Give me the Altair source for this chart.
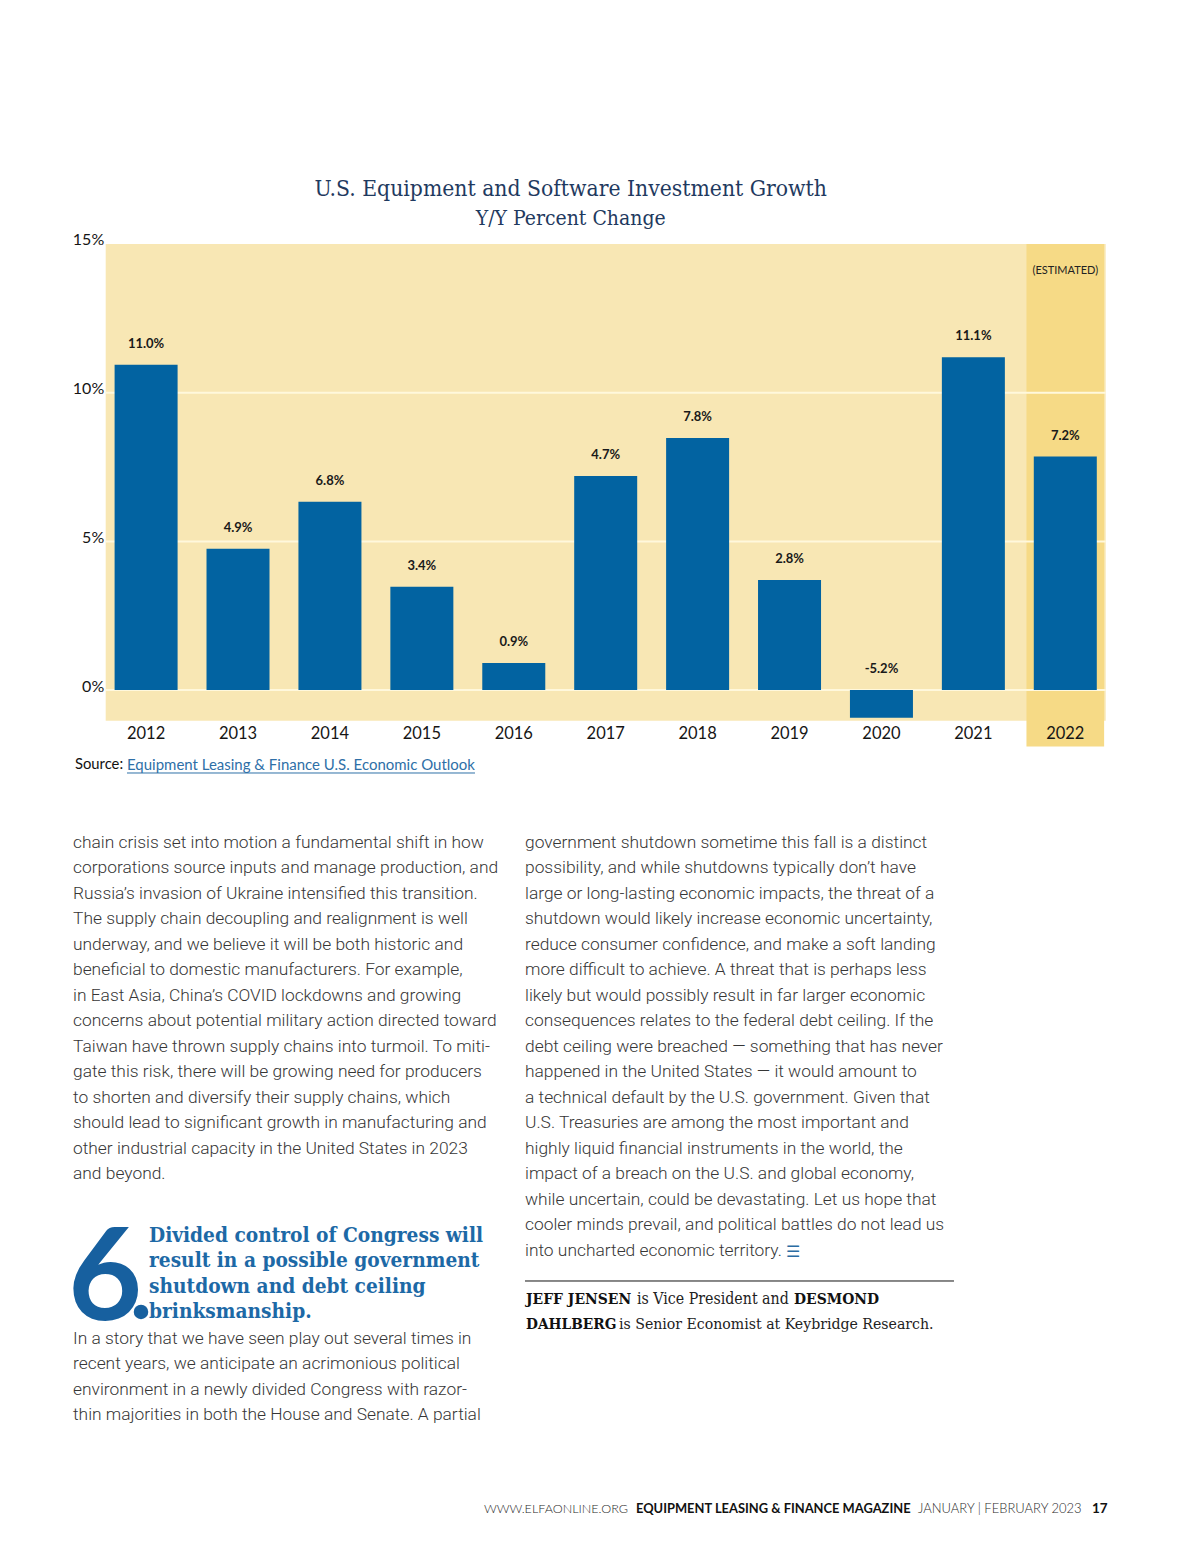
import altair as alt
import pandas as pd

# ---------------- data ----------------
years = ["2012", "2013", "2014", "2015", "2016", "2017", "2018", "2019", "2020", "2021", "2022"]
bar_values = [10.94, 4.75, 6.33, 3.47, 0.91, 7.20, 8.48, 3.70, -0.93, 11.19, 7.85]
value_labels = ["11.0%", "4.9%", "6.8%", "3.4%", "0.9%", "4.7%", "7.8%", "2.8%", "-5.2%", "11.1%", "7.2%"]
grid_values = [0, 5, 10]
y_ticks = [0, 5, 10, 15]
est_years = ["2022"]
est_top = [15]
est_bottom = [-1.9]
est_label = ["(ESTIMATED)"]

left_col = [
    "chain crisis set into motion a fundamental shift in how",
    "corporations source inputs and manage production, and",
    "Russia’s invasion of Ukraine intensified this transition.",
    "The supply chain decoupling and realignment is well",
    "underway, and we believe it will be both historic and",
    "beneficial to domestic manufacturers. For example,",
    "in East Asia, China’s COVID lockdowns and growing",
    "concerns about potential military action directed toward",
    "Taiwan have thrown supply chains into turmoil. To miti-",
    "gate this risk, there will be growing need for producers",
    "to shorten and diversify their supply chains, which",
    "should lead to significant growth in manufacturing and",
    "other industrial capacity in the United States in 2023",
    "and beyond.",
]
heading = [
    "Divided control of Congress will",
    "result in a possible government",
    "shutdown and debt ceiling",
    "brinksmanship.",
]
left_col2 = [
    "In a story that we have seen play out several times in",
    "recent years, we anticipate an acrimonious political",
    "environment in a newly divided Congress with razor-",
    "thin majorities in both the House and Senate. A partial",
]
right_col = [
    "government shutdown sometime this fall is a distinct",
    "possibility, and while shutdowns typically don’t have",
    "large or long-lasting economic impacts, the threat of a",
    "shutdown would likely increase economic uncertainty,",
    "reduce consumer confidence, and make a soft landing",
    "more difficult to achieve. A threat that is perhaps less",
    "likely but would possibly result in far larger economic",
    "consequences relates to the federal debt ceiling. If the",
    "debt ceiling were breached — something that has never",
    "happened in the United States — it would amount to",
    "a technical default by the U.S. government. Given that",
    "U.S. Treasuries are among the most important and",
    "highly liquid financial instruments in the world, the",
    "impact of a breach on the U.S. and global economy,",
    "while uncertain, could be devastating. Let us hope that",
    "cooler minds prevail, and political battles do not lead us",
    "into uncharted economic territory.",
]

# ---------------- layout constants ----------------
OX, OY = 105.7, 244.0          # page position of plot origin
W, H = 1000, 476.7
BLUE = "#0263A1"
PANEL = "#F8E7B4"
EST = "#F6DA86"
NAVY = "#1F3A60"
HEAD = "#1D69A6"
BODY = "#363636"
SANS = "Lato"
BODYFONT = "Roboto"
SERIF = "DejaVu Serif Condensed, Liberation Serif"

df = pd.DataFrame({"year": years, "value": bar_values, "label": value_labels})
df_est = pd.DataFrame({"year": est_years, "top": est_top, "bottom": est_bottom, "t": est_label})
df_grid = pd.DataFrame({"g": grid_values})

xscale = alt.Scale(domain=years, paddingInner=0.155, paddingOuter=0.017)
yscale = alt.Scale(domain=[-1.03, 15], nice=False, zero=False)

band = alt.Chart(df_est).mark_rect(color=EST).encode(
    x=alt.X("year:N", scale=xscale, sort=years,
            axis=alt.Axis(title=None, labelAngle=0, ticks=False, domain=False,
                          labelFont=SANS, labelFontSize=16.5, labelColor="#151515",
                          labelPadding=5)),
    y=alt.Y("top:Q", scale=yscale,
            axis=alt.Axis(title=None, values=y_ticks, format="d", labelExpr="datum.value + '%'",
                          ticks=False, domain=False, grid=False, labelFont=SANS,
                          labelFontSize=16, labelColor="#151515", labelPadding=2,
                          labelOffset=-4)),
    y2="bottom:Q",
)

est_text = alt.Chart(df_est).mark_text(font=SANS, fontSize=11, color="#222", baseline="middle", dy=27).encode(
    x=alt.X("year:N", scale=xscale, sort=years),
    y=alt.Y("top:Q", scale=yscale),
    text="t:N",
)

grid = alt.Chart(df_grid).mark_rule(color="#FFF8DC", strokeWidth=2).encode(
    y=alt.Y("g:Q", scale=yscale)
)

bars = alt.Chart(df).mark_bar(color=BLUE, size=63).encode(
    x=alt.X("year:N", scale=xscale, sort=years),
    y=alt.Y("value:Q", scale=yscale),
    y2=alt.datum(0),
)

labels = alt.Chart(df).transform_calculate(ly="max(datum.value, 0)").mark_text(
    font=SANS, fontSize=13, fontWeight="bold", color="#1a1a1a", baseline="middle", dy=-21
).encode(
    x=alt.X("year:N", scale=xscale, sort=years),
    y=alt.Y("ly:Q", scale=yscale),
    text="label:N",
)


def text_block(lines, x, y, dy, size, color, font, weight="normal"):
    d = pd.DataFrame({"t": lines, "i": list(range(len(lines)))})
    return alt.Chart(d).transform_calculate(py=f"{y - OY} + datum.i * {dy}").mark_text(
        align="left", baseline="middle", font=font, fontSize=size, fontWeight=weight, color=color
    ).encode(
        x=alt.value(x - OX),
        y=alt.Y("py:Q", scale=None, axis=None),
        text="t:N",
    )


def one_text(s, x, y, size, color, font, weight="normal", align="left", baseline="middle"):
    d = pd.DataFrame({"t": [s]})
    return alt.Chart(d).mark_text(
        align=align, baseline=baseline, font=font, fontSize=size, fontWeight=weight, color=color
    ).encode(x=alt.value(x - OX), y=alt.value(y - OY), text="t:N")


src1 = one_text("Source:", 75, 765, 14.8, "#111", SANS)
src2 = one_text("Equipment Leasing & Finance U.S. Economic Outlook", 127, 765, 15, "#2E6FA7", SANS)
src_line = alt.Chart(pd.DataFrame({"a": [0]})).mark_rule(color="#2E6FA7", strokeWidth=1).encode(
    x=alt.value(127 - OX), x2=alt.value(475 - OX), y=alt.value(773 - OY)
)

body_l = text_block(left_col, 73, 843, 25.5, 17.4, BODY, BODYFONT, 300)
head = text_block(heading, 149, 1236, 25.4, 20.7, HEAD, SERIF, "bold")
six = one_text("6", 68, 1320, 128, "#17609F", SANS, "bold", baseline="alphabetic")
dot = alt.Chart(pd.DataFrame({"a": [0]})).mark_circle(color="#17609F", opacity=1, size=210).encode(
    x=alt.value(141 - OX), y=alt.value(1312 - OY)
)
body_l2 = text_block(left_col2, 73, 1339, 25.5, 17.4, BODY, BODYFONT, 300)
body_r = text_block(right_col, 525, 843, 25.5, 17.4, BODY, BODYFONT, 300)
endmark = one_text("☰", 786, 1252, 16, "#2B6CA3", "DejaVu Sans")
bio_rule = alt.Chart(pd.DataFrame({"a": [0]})).mark_rule(color="#111", strokeWidth=1).encode(
    x=alt.value(525 - OX), x2=alt.value(954 - OX), y=alt.value(1281 - OY)
)
bio = [
    one_text("JEFF JENSEN", 526, 1299, 15.5, "#111", SERIF, "bold"),
    one_text("is Vice President and", 637, 1299, 15.8, "#222", SERIF),
    one_text("DESMOND", 794, 1299, 15.5, "#111", SERIF, "bold"),
    one_text("DAHLBERG", 526, 1324, 15.3, "#111", SERIF, "bold"),
    one_text("is Senior Economist at Keybridge Research.", 619, 1324, 15.7, "#222", SERIF),
]
footer = [
    one_text("WWW.ELFAONLINE.ORG", 484, 1509, 12.6, "#2a2a2a", SANS, 300),
    one_text("EQUIPMENT LEASING & FINANCE MAGAZINE", 636, 1509, 12.9, "#111", SANS, "bold"),
    one_text("JANUARY | FEBRUARY 2023", 918, 1509, 13, "#2a2a2a", SANS, 300),
    one_text("17", 1092, 1509, 13.5, "#111", SANS, "bold"),
]

chart = alt.layer(
    band, grid, bars, labels, est_text, src1, src2, src_line,
    body_l, head, six, dot, body_l2, body_r, endmark, bio_rule, *bio, *footer
).properties(
    width=W,
    height=H,
    padding={"left": OX - 8, "top": OY - 8, "right": 80, "bottom": 820},
    autosize=alt.AutoSizeParams(type="none"),
    title=alt.TitleParams(
        text="U.S. Equipment and Software Investment Growth",
        subtitle="Y/Y Percent Change",
        anchor="middle",
        frame="group",
        dx=-35,
        font=SERIF,
        fontSize=22.7,
        fontWeight="normal",
        color=NAVY,
        subtitleFont=SERIF,
        subtitleFontSize=21,
        subtitleColor=NAVY,
        subtitlePadding=7,
        offset=3,
    ),
).configure_view(fill=PANEL, stroke=None)

chart.save("out.html", embed_options={"renderer": "svg", "actions": False})
